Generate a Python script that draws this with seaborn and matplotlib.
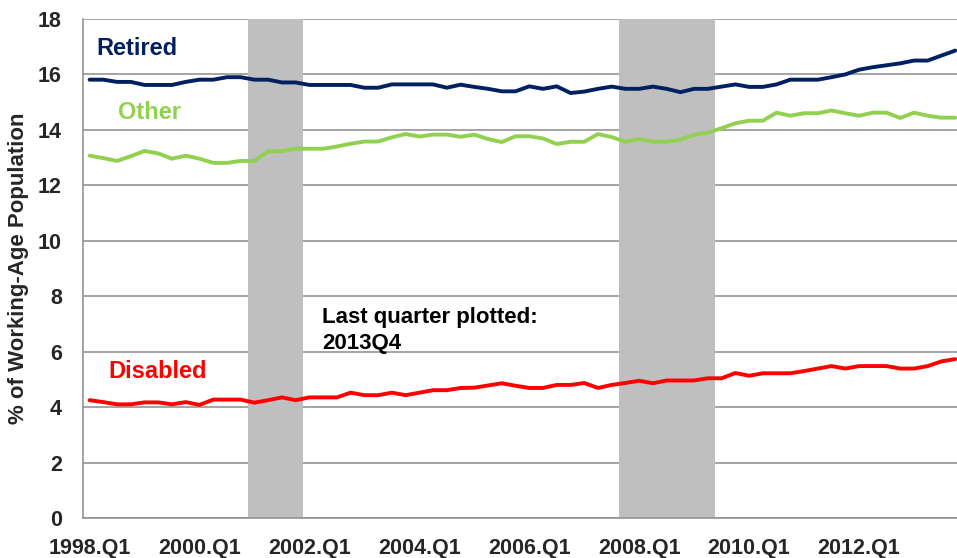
import matplotlib
matplotlib.use("Agg")
import matplotlib.pyplot as plt
import seaborn as sns
import pandas as pd

quarters = [f"{y}.Q{q}" for y in range(1998, 2014) for q in range(1, 5)]

retired = [15.81, 15.81, 15.73, 15.73, 15.62, 15.62, 15.62, 15.73, 15.81, 15.81, 15.90, 15.90,
           15.81, 15.81, 15.71, 15.71, 15.62, 15.62, 15.62, 15.62, 15.52, 15.52,
           15.64, 15.64, 15.64, 15.64, 15.52, 15.63, 15.55, 15.48, 15.39, 15.39, 15.57, 15.48,
           15.57, 15.33, 15.38, 15.48, 15.56, 15.48, 15.48, 15.56,
           15.48, 15.36, 15.48, 15.48, 15.56, 15.64, 15.55, 15.55, 15.64, 15.81, 15.81, 15.81,
           15.90, 16.00, 16.17, 16.26, 16.33, 16.40, 16.50, 16.50, 16.68, 16.86]

other = [13.07, 12.98, 12.88, 13.05, 13.24, 13.15, 12.96, 13.07, 12.96, 12.81, 12.81, 12.88,
         12.88, 13.23, 13.23, 13.32, 13.32, 13.32, 13.40, 13.50, 13.58, 13.58,
         13.73, 13.85, 13.76, 13.83, 13.83, 13.75, 13.83, 13.67, 13.56, 13.77, 13.77, 13.69,
         13.49, 13.57, 13.57, 13.85, 13.74, 13.57, 13.67, 13.57,
         13.57, 13.65, 13.82, 13.90, 14.06, 14.24, 14.33, 14.33, 14.62, 14.51, 14.60, 14.60,
         14.70, 14.60, 14.51, 14.62, 14.62, 14.43, 14.62, 14.51, 14.44, 14.44]

disabled = [4.25, 4.18, 4.10, 4.10, 4.17, 4.17, 4.10, 4.18, 4.08, 4.27, 4.27, 4.27, 4.16,
            4.25, 4.35, 4.25, 4.35, 4.35, 4.35, 4.52, 4.43, 4.43, 4.52, 4.43, 4.52, 4.61,
            4.61, 4.69, 4.70, 4.78, 4.86,
            4.77, 4.69, 4.69, 4.80, 4.80, 4.87, 4.69, 4.80, 4.87, 4.95, 4.86, 4.96, 4.96,
            4.96, 5.04, 5.04, 5.23, 5.13, 5.22, 5.22, 5.22, 5.30, 5.39, 5.48, 5.39, 5.48,
            5.48, 5.48, 5.39, 5.39, 5.48, 5.65, 5.73]

recessions = [("2001.Q1", "2001.Q4"), ("2007.Q4", "2009.Q2")]
tick_labels = [q for q in quarters if q.endswith("Q1") and int(q[:4]) % 2 == 0]

colors = {"Retired": "#002060", "Other": "#92D050", "Disabled": "#FF0000"}

idx = list(range(len(quarters)))
df = pd.concat([
    pd.DataFrame({"t": idx, "value": retired, "series": "Retired"}),
    pd.DataFrame({"t": idx, "value": other, "series": "Other"}),
    pd.DataFrame({"t": idx, "value": disabled, "series": "Disabled"}),
])

sns.set_style("white")
plt.rcParams["font.family"] = ["Liberation Sans", "DejaVu Sans"]
plt.rcParams["font.weight"] = "bold"

fig = plt.figure(figsize=(9.57, 5.58), dpi=100)
ax = fig.add_axes([0.0864, 0.0717, 0.9136, 0.8943])

# recession bands
for start, end in recessions:
    ax.axvspan(quarters.index(start) - 0.5, quarters.index(end) + 0.5,
               color="#BFBFBF", lw=0, zorder=1)

sns.lineplot(data=df, x="t", y="value", hue="series", palette=colors,
             linewidth=2.8, legend=False, ax=ax, zorder=3)

ax.set_xlim(-0.5, 63.13)
ax.set_ylim(0, 18)
ax.set_yticks(range(0, 19, 2))
ax.yaxis.grid(True, color="#8C8C8C", linewidth=1.1, zorder=0)
ax.set_axisbelow(True)

major = [quarters.index(q) for q in tick_labels]
ax.set_xticks(major)
ax.set_xticklabels(tick_labels, fontsize=15.5, fontweight="bold")
ax.set_xticks([m - 0.5 for m in major], minor=True)
ax.tick_params(axis="x", which="major", length=0, pad=14.5)
ax.tick_params(axis="x", which="minor", length=5, width=1.1, color="#8C8C8C", direction="out")
ax.tick_params(axis="y", length=5, width=1.1, color="#8C8C8C", direction="out",
               labelsize=15.5, pad=10)
for lab in ax.get_yticklabels():
    lab.set_fontweight("bold")

for side in ["top", "right"]:
    ax.spines[side].set_visible(False)
for side in ["left", "bottom"]:
    ax.spines[side].set_color("#8C8C8C")
    ax.spines[side].set_linewidth(1.1)

ax.set_xlabel("")
ax.set_ylabel("% of Working-Age Population", fontsize=16, fontweight="bold")
ax.yaxis.set_label_coords(-0.061, 0.5)

ax.text(0.5, 16.7, "Retired", color=colors["Retired"], fontsize=17, fontweight="bold")
ax.text(2.1, 14.4, "Other", color=colors["Other"], fontsize=17, fontweight="bold")
ax.text(1.35, 5.05, "Disabled", color=colors["Disabled"], fontsize=17, fontweight="bold")
ax.text(16.9, 7.62, "Last quarter plotted:\n2013Q4", color="black", fontsize=16,
        fontweight="bold", va="top", linespacing=1.3)

fig.savefig("out.png", dpi=100)
